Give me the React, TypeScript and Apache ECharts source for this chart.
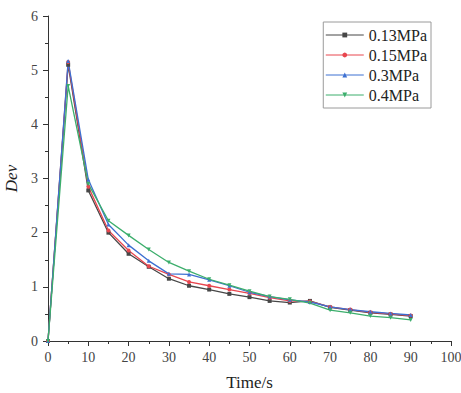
import React, { useEffect, useRef } from "react";
import * as echarts from "echarts";

const times = [0, 5, 10, 15, 20, 25, 30, 35, 40, 45, 50, 55, 60, 65, 70, 75, 80, 85, 90];
const s013 = [0, 5.1, 2.78, 2.0, 1.61, 1.37, 1.15, 1.02, 0.95, 0.87, 0.81, 0.74, 0.71, 0.74, 0.62, 0.57, 0.52, 0.49, 0.46];
const s015 = [0, 5.15, 2.85, 2.04, 1.67, 1.38, 1.23, 1.09, 1.02, 0.95, 0.88, 0.8, 0.74, 0.73, 0.63, 0.58, 0.53, 0.5, 0.47];
const s03 = [0, 5.17, 2.98, 2.15, 1.77, 1.48, 1.24, 1.23, 1.13, 1.02, 0.9, 0.82, 0.76, 0.72, 0.63, 0.58, 0.54, 0.51, 0.48];
const s04 = [0, 4.71, 2.9, 2.22, 1.95, 1.69, 1.45, 1.29, 1.14, 1.03, 0.92, 0.82, 0.77, 0.7, 0.57, 0.52, 0.46, 0.43, 0.39];
const seriesNames = ["0.13MPa", "0.15MPa", "0.3MPa", "0.4MPa"];
const seriesColors = ["#474747", "#e8464f", "#3d70d2", "#3cae6c"];
const seriesSymbols = ["rect", "circle", "triangle", "path://M0,0 L10,0 L5,10 Z"];
const seriesValues = [s013, s015, s03, s04];

const FONT = "'Liberation Serif', 'Times New Roman', serif";

export default function App() {
  const ref = useRef<HTMLDivElement>(null);
  useEffect(() => {
    if (!ref.current) return;
    const chart = echarts.init(ref.current, null, { renderer: "svg" });
    chart.setOption({
      animation: false,
      backgroundColor: "#ffffff",
      grid: { left: 48, right: 10, top: 16, bottom: 52, containLabel: false, outerBoundsMode: "none" },
      legend: {
        orient: "vertical",
        right: 30,
        top: 22,
        width: 108,
        borderColor: "#9a9a9a",
        borderWidth: 1,
        padding: [5, 4, 5, 2],
        itemWidth: 38,
        itemHeight: 6,
        itemGap: 4,
        textStyle: { fontFamily: FONT, fontSize: 16, color: "#222" },
        data: seriesNames.map((n) => ({ name: n, itemStyle: {}, lineStyle: { width: 1 } })),
      },
      xAxis: {
        type: "value",
        min: 0,
        max: 100,
        interval: 10,
        name: "Time/s",
        nameLocation: "middle",
        nameGap: 33,
        nameTextStyle: { fontFamily: FONT, fontSize: 17, color: "#222" },
        axisLine: { show: true, lineStyle: { color: "#333", width: 1 } },
        axisTick: { show: true, inside: false, length: 5, lineStyle: { color: "#333" } },
        minorTick: { show: true, splitNumber: 2, length: 3, lineStyle: { color: "#333" } },
        axisLabel: { fontFamily: FONT, fontSize: 14, color: "#444", margin: 9 },
        splitLine: { show: false },
      },
      yAxis: {
        type: "value",
        min: 0,
        max: 6,
        interval: 1,
        name: "Dev",
        nameLocation: "middle",
        nameGap: 20,
        nameTextStyle: { fontFamily: FONT, fontSize: 17, fontStyle: "italic", color: "#222" },
        axisLine: { show: true, lineStyle: { color: "#333", width: 1 } },
        axisTick: { show: true, inside: false, length: 5, lineStyle: { color: "#333" } },
        minorTick: { show: true, splitNumber: 2, length: 3, lineStyle: { color: "#333" } },
        axisLabel: { fontFamily: FONT, fontSize: 14, color: "#444", margin: 10 },
        splitLine: { show: false },
      },
      series: seriesNames.map((name, i) => ({
        name,
        type: "line",
        data: times.map((t, j) => [t, seriesValues[i][j]]),
        symbol: seriesSymbols[i],
        symbolSize: 4,
        showSymbol: true,
        lineStyle: { color: seriesColors[i], width: 1.3 },
        itemStyle: { color: seriesColors[i] },
      })),
    });
    return () => chart.dispose();
  }, []);
  return <div ref={ref} style={{ width: 461, height: 393, position: "absolute", left: 0, top: 0 }} />;
}
